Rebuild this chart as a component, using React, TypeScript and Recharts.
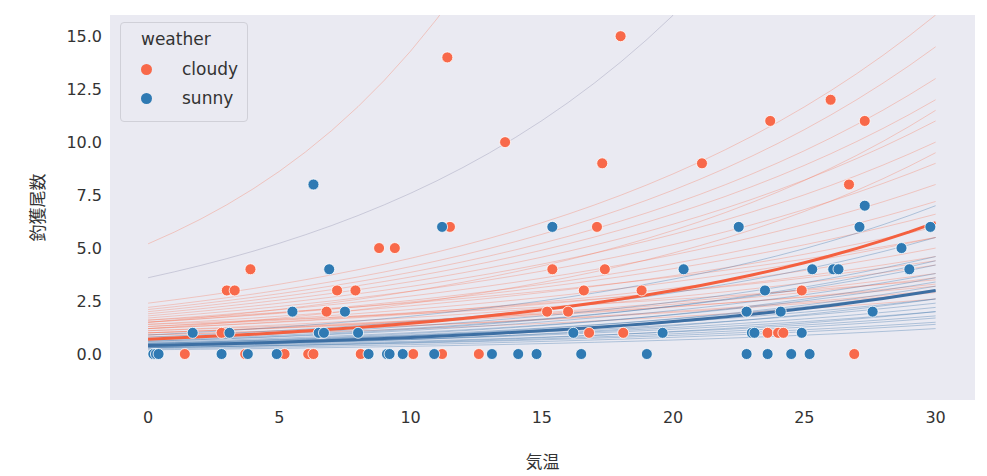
import React from "react";
import { ComposedChart, Line, Scatter, XAxis, YAxis, CartesianGrid } from "recharts";

const cloudyPts: [number, number][] = [[0.3,0],[1.4,0],[2.8,1],[3.0,3],[3.3,3],[3.7,0],[3.9,4],[5.2,0],[6.1,0],[6.3,0],[6.6,1],[6.8,2],[7.2,3],[7.9,3],[8.1,0],[8.8,5],[9.4,5],[10.1,0],[11.2,0],[11.4,14],[11.5,6],[12.6,0],[13.6,10],[15.2,2],[15.4,4],[16.0,2],[16.6,3],[16.8,1],[17.1,6],[17.3,9],[17.4,4],[18.0,15],[18.1,1],[18.8,3],[21.1,9],[22.8,2],[23.6,1],[23.7,11],[24.0,1],[24.2,1],[24.9,3],[26.0,12],[26.7,8],[26.9,0],[27.3,11]];
const sunnyPts: [number, number][] = [[0.2,0],[0.3,0],[0.4,0],[1.7,1],[2.8,0],[3.1,1],[3.8,0],[4.9,0],[5.5,2],[6.3,8],[6.5,1],[6.7,1],[6.9,4],[7.5,2],[8.0,1],[8.4,0],[9.1,0],[9.2,0],[9.7,0],[10.9,0],[11.2,6],[13.1,0],[14.1,0],[14.8,0],[15.4,6],[16.2,1],[16.5,0],[19.0,0],[19.6,1],[20.4,4],[22.5,6],[22.8,0],[22.8,2],[23.0,1],[23.1,1],[23.5,3],[23.6,0],[24.1,2],[24.5,0],[24.9,1],[25.2,0],[25.3,4],[26.1,4],[26.3,4],[27.1,6],[27.3,7],[27.6,2],[28.7,5],[29.0,4],[29.8,6]];

// sampled curves: value at temperature 0 and at 30
const cloudyStart = [0.8,0.9,1.0,1.0,1.1,1.2,1.2,1.3,1.4,1.5,1.5,1.6,1.7,1.8,1.9,2.0,2.1,2.2,1.0,1.3,1.6,0.9,1.1,1.4,5.2,2.4,1.2,1.5];
const cloudyEnd   = [2.6,3.0,3.3,3.8,4.2,4.6,5.0,5.5,6.0,6.6,7.2,8.0,9.0,10.0,11.0,12.0,13.0,14.5,3.6,4.4,5.5,2.9,3.2,3.5,108,16,9.5,11.5];
const sunnyStart = [0.2,0.25,0.3,0.3,0.35,0.4,0.4,0.45,0.5,0.5,0.55,0.6,0.65,0.7,0.8,0.3,0.35,0.45,0.5,0.6,3.6,0.9];
const sunnyEnd   = [1.2,1.4,1.5,1.7,1.8,2.0,2.2,2.4,2.6,3.0,3.4,3.8,4.2,4.6,5.5,2.0,2.6,3.2,3.6,4.4,33.7,7.0];
const meanCloudy = [0.7, 6.2];
const meanSunny = [0.4, 3.0];

const xs = Array.from({ length: 31 }, (_, i) => i);
const curve = (s: number, e: number) => xs.map((x) => ({ x, y: s * Math.pow(e / s, x / 30) }));
const xTicks = [0, 5, 10, 15, 20, 25, 30];
const yTicks = [0, 2.5, 5, 7.5, 10, 12.5, 15];
const C = "#f8694a";
const S = "#2f7ab3";
const font = "'DejaVu Sans', sans-serif";

export default function App() {
  return (
    <div style={{ position: "absolute", left: 0, top: 0, width: 987, height: 476, background: "#fff", fontFamily: font }}>
      <ComposedChart width={987} height={476} margin={{ top: 15, right: 12, bottom: 46, left: 50 }}>
        <rect x={110} y={15} width={865} height={385} fill="#eaeaf2" />
        <CartesianGrid stroke="#fff" strokeWidth={1.3} horizontalValues={yTicks} verticalValues={xTicks} />
        <XAxis type="number" dataKey="x" domain={[-1.45, 31.5]} ticks={xTicks} allowDataOverflow axisLine={false} tickLine={false}
          tick={{ fill: "#333", fontSize: 16, fontFamily: font }} tickMargin={6} height={30}
          label={{ value: "気温", position: "insideBottom", offset: -38, fill: "#333", fontSize: 17, fontFamily: "'Noto Sans CJK JP'" }} />
        <YAxis type="number" dataKey="y" domain={[-2.17, 16]} ticks={yTicks} allowDataOverflow axisLine={false} tickLine={false} width={60}
          tickFormatter={(v: number) => v.toFixed(1)} tick={{ fill: "#333", fontSize: 16, fontFamily: font }}
          label={{ value: "釣獲尾数", angle: -90, position: "insideLeft", offset: -12, fill: "#333", fontSize: 17, fontFamily: "'Noto Sans CJK JP'", style: { textAnchor: "middle" } }} />
        {cloudyStart.map((s, i) => (
          <Line key={"c" + i} data={curve(s, cloudyEnd[i])} dataKey="y" stroke={C} strokeOpacity={0.3} strokeWidth={1} dot={false} isAnimationActive={false} />
        ))}
        {sunnyStart.map((s, i) => (
          <Line key={"s" + i} data={curve(s, sunnyEnd[i])} dataKey="y" stroke={i === 20 ? "#8a8aa8" : "#3a74a8"} strokeOpacity={0.35} strokeWidth={1} dot={false} isAnimationActive={false} />
        ))}
        <Line data={curve(meanCloudy[0], meanCloudy[1])} dataKey="y" stroke="#f4603f" strokeWidth={3} dot={false} isAnimationActive={false} />
        <Line data={curve(meanSunny[0], meanSunny[1])} dataKey="y" stroke="#3d6fa3" strokeWidth={3} dot={false} isAnimationActive={false} />
        <Scatter data={cloudyPts.map(([x, y]) => ({ x, y }))} fill={C} isAnimationActive={false}
          shape={(p: any) => <circle cx={p.cx} cy={p.cy} r={5.5} fill={C} stroke="#fff" strokeWidth={0.8} />} />
        <Scatter data={sunnyPts.map(([x, y]) => ({ x, y }))} fill={S} isAnimationActive={false}
          shape={(p: any) => <circle cx={p.cx} cy={p.cy} r={5.5} fill={S} stroke="#fff" strokeWidth={0.8} />} />
      </ComposedChart>
      <div style={{ position: "absolute", left: 120, top: 22, width: 126, height: 98, background: "rgba(234,234,242,0.85)", border: "1px solid #d0d0d8", borderRadius: 4, color: "#333", fontSize: 17 }}>
        <div style={{ position: "absolute", left: 20, top: 6 }}>weather</div>
        {[["cloudy", C], ["sunny", S]].map(([n, c], i) => (
          <div key={n} style={{ position: "absolute", left: 20, top: 36 + i * 29, display: "flex", alignItems: "center" }}>
            <span style={{ width: 11, height: 11, borderRadius: 6, background: c, display: "inline-block", marginRight: 30 }} />
            <span>{n}</span>
          </div>
        ))}
      </div>
    </div>
  );
}
